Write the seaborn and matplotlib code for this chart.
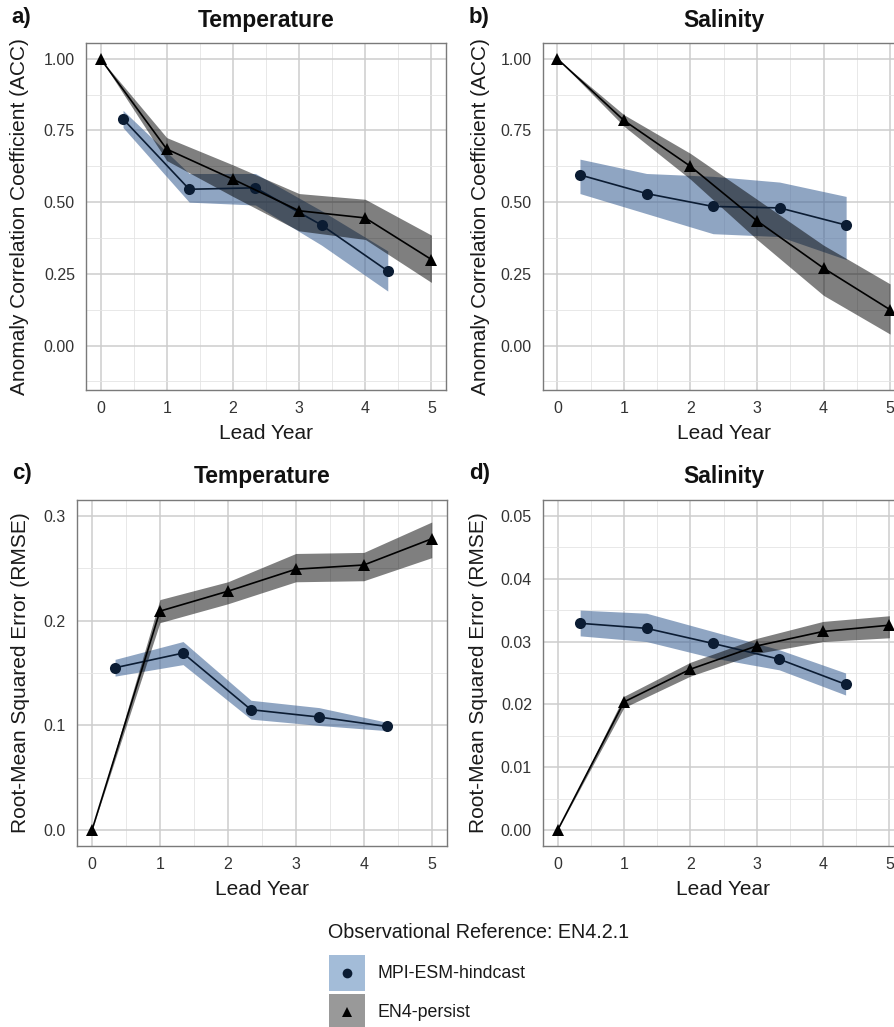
import numpy as np
import pandas as pd
import matplotlib
matplotlib.use("Agg")
import matplotlib.pyplot as plt
from matplotlib.ticker import MultipleLocator, FormatStrFormatter
from matplotlib.patches import Patch
from matplotlib.lines import Line2D
from matplotlib.legend_handler import HandlerBase
import seaborn as sns

# ---------------- data ----------------
lead_persist = [0, 1, 2, 3, 4, 5]
lead_hindcast = [0.34, 1.34, 2.34, 3.34, 4.34]
models = ["MPI-ESM-hindcast", "EN4-persist"]

# a) ACC temperature
persist_acc_T = [1.00, 0.685, 0.58, 0.47, 0.445, 0.30]
persist_acc_T_lo = [1.00, 0.645, 0.52, 0.40, 0.37, 0.22]
persist_acc_T_hi = [1.00, 0.725, 0.63, 0.53, 0.51, 0.385]
hind_acc_T = [0.79, 0.545, 0.55, 0.42, 0.26]
hind_acc_T_lo = [0.76, 0.50, 0.49, 0.35, 0.19]
hind_acc_T_hi = [0.82, 0.60, 0.60, 0.47, 0.33]

# b) ACC salinity
persist_acc_S = [1.00, 0.785, 0.625, 0.435, 0.27, 0.125]
persist_acc_S_lo = [1.00, 0.765, 0.58, 0.37, 0.175, 0.04]
persist_acc_S_hi = [1.00, 0.805, 0.67, 0.51, 0.35, 0.215]
hind_acc_S = [0.595, 0.53, 0.485, 0.48, 0.42]
hind_acc_S_lo = [0.53, 0.46, 0.39, 0.38, 0.30]
hind_acc_S_hi = [0.65, 0.60, 0.59, 0.57, 0.52]

# c) RMSE temperature
persist_rmse_T = [0.0, 0.209, 0.228, 0.249, 0.253, 0.278]
persist_rmse_T_lo = [0.0, 0.198, 0.216, 0.237, 0.238, 0.260]
persist_rmse_T_hi = [0.0, 0.220, 0.237, 0.264, 0.265, 0.294]
hind_rmse_T = [0.155, 0.169, 0.115, 0.108, 0.099]
hind_rmse_T_lo = [0.147, 0.158, 0.106, 0.100, 0.095]
hind_rmse_T_hi = [0.163, 0.180, 0.124, 0.117, 0.103]

# d) RMSE salinity
persist_rmse_S = [0.0, 0.0204, 0.0256, 0.0293, 0.0316, 0.0326]
persist_rmse_S_lo = [0.0, 0.0195, 0.0245, 0.0281, 0.0300, 0.0306]
persist_rmse_S_hi = [0.0, 0.0213, 0.0267, 0.0305, 0.0332, 0.0341]
hind_rmse_S = [0.0329, 0.0321, 0.0297, 0.0272, 0.0232]
hind_rmse_S_lo = [0.0309, 0.0300, 0.0274, 0.0255, 0.0215]
hind_rmse_S_hi = [0.0350, 0.0345, 0.0316, 0.0287, 0.0250]

panel_letters = ["a)", "b)", "c)", "d)"]
panel_titles = ["Temperature", "Salinity", "Temperature", "Salinity"]
acc_label = "Anomaly Correlation Coefficient (ACC)"
rmse_label = "Root-Mean Squared Error (RMSE)"
x_label = "Lead Year"
legend_title = "Observational Reference: EN4.2.1"

# ---------------- style ----------------
sns.set_style("white")
plt.rcParams["font.family"] = ["Liberation Sans", "DejaVu Sans"]

W, H = 894, 1027
fig = plt.figure(figsize=(W / 100, H / 100), dpi=100)

def fx(px):
    return px / W

def fy(py):
    return 1 - py / H

band_blue = "#45699a"
band_gray = "#000000"
navy = "#0b1c33"
line_col = {"MPI-ESM-hindcast": navy, "EN4-persist": "#000000"}
markers = {"MPI-ESM-hindcast": "o", "EN4-persist": "^"}

panels = [
    dict(pos=(86, 390, 360, 347), ylim=(-0.155, 1.055), major=0.25, minor=0.125, fmt="%.2f",
         p=persist_acc_T, plo=persist_acc_T_lo, phi=persist_acc_T_hi,
         h=hind_acc_T, hlo=hind_acc_T_lo, hhi=hind_acc_T_hi, ylabel=acc_label,
         ylx=20, title_xy=(266, 21), letter_xy=(11, 18)),
    dict(pos=(542.7, 390, 362, 347), ylim=(-0.155, 1.055), major=0.25, minor=0.125, fmt="%.2f",
         p=persist_acc_S, plo=persist_acc_S_lo, phi=persist_acc_S_hi,
         h=hind_acc_S, hlo=hind_acc_S_lo, hhi=hind_acc_S_hi, ylabel=acc_label,
         ylx=480, title_xy=(723.5, 21), letter_xy=(469, 18)),
    dict(pos=(77, 846, 369.7, 346), ylim=(-0.015, 0.315), major=0.1, minor=0.05, fmt="%.1f",
         p=persist_rmse_T, plo=persist_rmse_T_lo, phi=persist_rmse_T_hi,
         h=hind_rmse_T, hlo=hind_rmse_T_lo, hhi=hind_rmse_T_hi, ylabel=rmse_label,
         ylx=21, title_xy=(262, 477), letter_xy=(12, 474)),
    dict(pos=(543, 846, 361, 346), ylim=(-0.0025, 0.0525), major=0.01, minor=0.005, fmt="%.2f",
         p=persist_rmse_S, plo=persist_rmse_S_lo, phi=persist_rmse_S_hi,
         h=hind_rmse_S, hlo=hind_rmse_S_lo, hhi=hind_rmse_S_hi, ylabel=rmse_label,
         ylx=479, title_xy=(723.5, 477), letter_xy=(469, 474)),
]

for i, P in enumerate(panels):
    left, bottom, w, h = P["pos"]
    ax = fig.add_axes([fx(left), fy(bottom), w / W, h / H])
    ax.set_facecolor("white")

    # ribbons
    ax.fill_between(lead_hindcast, P["hlo"], P["hhi"], color=band_blue, alpha=0.6, lw=0, zorder=2)
    ax.fill_between(lead_persist, P["plo"], P["phi"], color=band_gray, alpha=0.5, lw=0, zorder=2)

    df = pd.concat([
        pd.DataFrame({"Lead Year": lead_hindcast, "value": P["h"], "Model": models[0]}),
        pd.DataFrame({"Lead Year": lead_persist, "value": P["p"], "Model": models[1]}),
    ], ignore_index=True)
    sns.lineplot(data=df, x="Lead Year", y="value", hue="Model", style="Model",
                 palette=line_col, markers=markers, dashes=False, estimator=None,
                 sort=False, markersize=8, markeredgewidth=0, linewidth=1.2,
                 legend=False, ax=ax, zorder=4)

    ax.set_xlim(-0.22, 5.22)
    ax.set_ylim(*P["ylim"])
    ax.xaxis.set_major_locator(MultipleLocator(1))
    ax.xaxis.set_minor_locator(MultipleLocator(0.5))
    ax.yaxis.set_major_locator(MultipleLocator(P["major"]))
    ax.yaxis.set_minor_locator(MultipleLocator(P["minor"]))
    ax.yaxis.set_major_formatter(FormatStrFormatter(P["fmt"]))
    ax.xaxis.set_major_formatter(FormatStrFormatter("%d"))

    ax.grid(which="major", color="#cdcdcd", lw=1.1, zorder=0)
    ax.grid(which="minor", color="#e4e4e4", lw=0.6, zorder=0)
    ax.set_axisbelow(True)
    for s in ax.spines.values():
        s.set_color("#7a7a7a")
        s.set_linewidth(1.0)
    ax.tick_params(which="major", length=5.5, width=0.9, color="#555555",
                   labelsize=11.5, labelcolor="#333333", pad=2.5)
    ax.tick_params(which="minor", length=0)

    ax.set_xlabel(x_label, fontsize=15, color="#1a1a1a", va="center")
    ax.xaxis.set_label_coords(0.5, -43.5 / h)
    ax.set_ylabel(P["ylabel"], fontsize=15, color="#1a1a1a", va="center")
    ax.yaxis.set_label_coords((P["ylx"] - left) / w, 0.5)

    fig.text(fx(P["title_xy"][0]), fy(P["title_xy"][1]), panel_titles[i],
             ha="center", va="center", fontsize=16.5, fontweight="bold", color="#111111")
    fig.text(fx(P["letter_xy"][0]), fy(P["letter_xy"][1]), panel_letters[i],
             ha="left", va="center", fontsize=16, fontweight="bold", color="#111111")


# ---------------- legend ----------------
class CenteredMarker(HandlerBase):
    def create_artists(self, legend, orig_handle, xdescent, ydescent,
                       width, height, fontsize, trans):
        m = Line2D([width / 2 - xdescent], [height / 2 - ydescent], ls="none",
                   marker=orig_handle.get_marker(), color=orig_handle.get_color(),
                   markersize=orig_handle.get_markersize(), markeredgewidth=0,
                   transform=trans)
        return [m]


h1 = (Patch(facecolor="#a3bcd8", edgecolor="none"),
      Line2D([], [], ls="none", marker="o", color=navy, markersize=7, markeredgewidth=0))
h2 = (Patch(facecolor="#999999", edgecolor="none"),
      Line2D([], [], ls="none", marker="^", color="black", markersize=7, markeredgewidth=0))

fig.text(fx(328), fy(933), legend_title, ha="left", va="center",
         fontsize=14.2, color="#1a1a1a")
leg = fig.legend(handles=[h1, h2], labels=models,
                 handler_map={Line2D: CenteredMarker()},
                 loc="upper left", bbox_to_anchor=(fx(329), fy(955)),
                 frameon=False, fontsize=12.8,
                 handlelength=2.0, handleheight=2.73, labelspacing=0.17,
                 handletextpad=0.72, borderpad=0, borderaxespad=0)
for t in leg.get_texts():
    t.set_color("#1a1a1a")

fig.savefig("out.png", dpi=100)
